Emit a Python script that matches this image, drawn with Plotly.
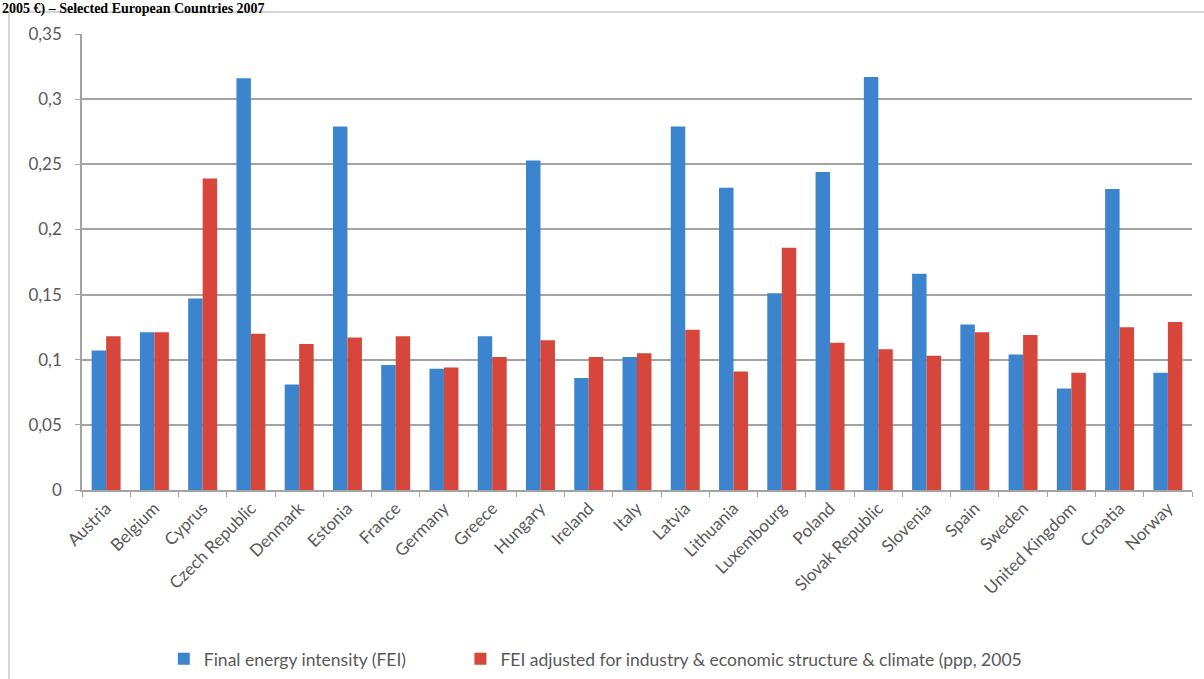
import plotly.graph_objects as go

countries = ["Austria", "Belgium", "Cyprus", "Czech Republic", "Denmark", "Estonia",
             "France", "Germany", "Greece", "Hungary", "Ireland", "Italy", "Latvia",
             "Lithuania", "Luxembourg", "Poland", "Slovak Republic", "Slovenia", "Spain",
             "Sweden", "United Kingdom", "Croatia", "Norway"]

fei = [0.107, 0.121, 0.147, 0.316, 0.081, 0.279, 0.096, 0.093, 0.118, 0.253, 0.086,
       0.102, 0.279, 0.232, 0.151, 0.244, 0.317, 0.166, 0.127, 0.104, 0.078, 0.231, 0.090]

fei_adj = [0.118, 0.121, 0.239, 0.120, 0.112, 0.117, 0.118, 0.094, 0.102, 0.115, 0.102,
           0.105, 0.123, 0.091, 0.186, 0.113, 0.108, 0.103, 0.121, 0.119, 0.090, 0.125, 0.129]

y_tick_vals = [0, 0.05, 0.1, 0.15, 0.2, 0.25, 0.3, 0.35]
y_tick_labels = ["0", "0,05", "0,1", "0,15", "0,2", "0,25", "0,3", "0,35"]

series_names = ["Final energy intensity (FEI)",
                "FEI adjusted for industry & economic structure & climate (ppp, 2005"]
title_text = "2005 €) – Selected European Countries 2007"

BLUE = "#3d84cf"
RED = "#d6463b"
TXT = "#595959"
GRID = "#a3a3a3"
FONT = "Lato, 'Open Sans', sans-serif"

fig = go.Figure()
fig.add_trace(go.Bar(x=countries, y=fei, name=series_names[0], legend="legend",
                     marker=dict(color=BLUE, line_width=0)))
fig.add_trace(go.Bar(x=countries, y=fei_adj, name=series_names[1], legend="legend2",
                     marker=dict(color=RED, line_width=0)))

legend_common = dict(orientation="h", xanchor="left", y=-0.3706, yanchor="middle",
                     font=dict(family=FONT, size=17.5, color=TXT), itemclick=False,
                     bgcolor="rgba(0,0,0,0)")

fig.update_layout(
    width=1204, height=679,
    margin=dict(l=82, r=12, t=34, b=189, autoexpand=False),
    paper_bgcolor="white", plot_bgcolor="white",
    barmode="group", bargap=0.4, bargroupgap=0,
    font=dict(family=FONT, size=16, color=TXT),
    showlegend=True,
    legend=dict(x=0.0737, **legend_common),
    legend2=dict(x=0.3409, **legend_common),
    annotations=[dict(text="<b>" + title_text + "</b>", xref="paper", yref="paper",
                      x=-0.074, xanchor="left", y=1.0768, yanchor="top", showarrow=False,
                      font=dict(family="'Liberation Serif', 'DejaVu Serif', serif", size=14, color="black"))],
    shapes=[dict(type="rect", xref="paper", yref="paper", x0=-0.0658, x1=1.05,
                 y0=-0.45, y1=1.048, line=dict(color="#c9c9c9", width=1.5), layer="below")],
)

fig.update_xaxes(
    type="category", showgrid=False, showline=True, linecolor=GRID, linewidth=1.5,
    ticks="outside", tickson="boundaries", ticklen=5, tickcolor=GRID,
    tickangle=-45, tickfont=dict(family=FONT, size=17, color=TXT),
)
fig.update_yaxes(
    range=[0, 0.35], tickvals=y_tick_vals, ticktext=y_tick_labels,
    showgrid=True, gridcolor=GRID, gridwidth=1.5,
    showline=True, linecolor=GRID, linewidth=1.5,
    ticks="outside", ticklen=5, tickcolor=GRID, ticklabelstandoff=10,
    tickfont=dict(family=FONT, size=17, color=TXT), zeroline=False,
)

fig.write_html("out.html", config={"displayModeBar": False},
               post_script="document.body.style.margin='0';")
